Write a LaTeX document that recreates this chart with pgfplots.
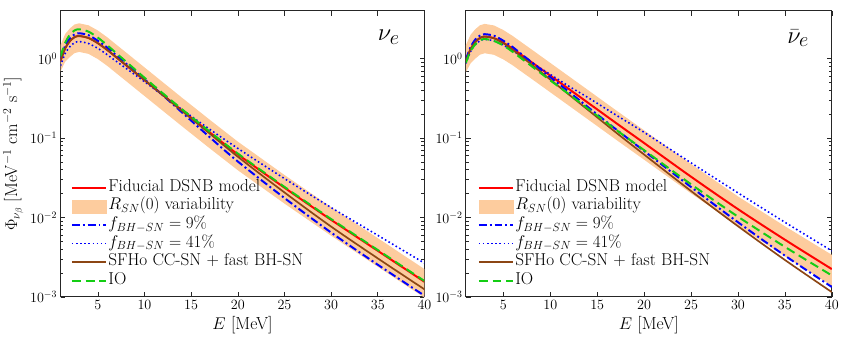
\documentclass[border=0pt]{standalone}
\usepackage{pgfplots}
\usepackage{pgfplotstable}
\pgfplotsset{compat=1.18}
\definecolor{bandc}{RGB}{253,204,158}
\definecolor{mygreen}{RGB}{20,205,20}
\definecolor{mybrown}{RGB}{140,70,20}
\definecolor{myblue}{RGB}{0,0,255}
\definecolor{myred}{RGB}{255,0,0}
\definecolor{axc}{RGB}{38,38,38}

% E, red (fiducial), green (IO), dashdot (9%), dotted (41%), brown (SFHo)
\pgfplotstableread{
E R G D O B
1 0.9333 1.0715 1.0 0.8128 0.9333
1.5 1.349 1.5849 1.4454 1.1614 1.349
2 1.660 1.9953 1.7989 1.4125 1.660
2.5 1.862 2.2646 2.0184 1.5849 1.862
3 1.928 2.3442 2.0893 1.6406 1.928
4 1.8197 2.1878 1.9724 1.5488 1.8197
5 1.5668 1.8408 1.6788 1.3490 1.5668
6 1.2882 1.4791 1.3804 1.1220 1.2882
7 1.0351 1.1668 1.0965 0.9226 1.0351
8 0.8318 0.9226 0.8710 0.7586 0.8318
10 0.5370 0.5754 0.5495 0.5129 0.5370
12 0.3467 0.3631 0.3428 0.3428 0.34435
14 0.22387 0.23174 0.21135 0.22909 0.22029
17 0.11749 0.12023 0.10233 0.12882 0.1135
20 0.06237 0.06383 0.05070 0.07413 0.05821
25 0.023714 0.024266 0.017579 0.030903 0.020654
30 0.009333 0.009550 0.006457 0.013335 0.007674
35 0.0038019 0.0038905 0.002541 0.0059566 0.0030549
40 0.0015488 0.0015849 0.0010351 0.0026607 0.0012445
}\tabNuE

% band: upper edge forward, lower edge backward
\pgfplotstableread{
E Y
1 1.4791
1.5 2.0417
2 2.3988
2.5 2.6915
3 2.7861
4 2.6303
5 2.2646
6 1.8621
7 1.4962
8 1.2023
10 0.7762
12 0.50119
14 0.32359
17 0.16982
20 0.090157
25 0.034277
30 0.01349
35 0.0054954
40 0.0022387
40 0.000977
35 0.0023988
30 0.0058884
25 0.014962
20 0.039355
17 0.07413
14 0.14125
12 0.21878
10 0.3388
8 0.5248
7 0.65313
6 0.8128
5 0.9886
4 1.1482
3 1.2162
2.5 1.1749
2 1.0471
1.5 0.9120
1 0.6918
}\bandNuE

\pgfplotstableread{
E R G D O B
1 0.9333 0.8913 0.9772 0.8710 0.9333
1.5 1.3183 1.2445 1.3964 1.2303 1.3183
2 1.6218 1.5136 1.7378 1.4962 1.6218
2.5 1.8197 1.6982 1.9498 1.6788 1.8197
3 1.8967 1.7701 2.0324 1.7498 1.8967
4 1.8113 1.6711 1.9409 1.6711 1.7989
5 1.5849 1.4622 1.6788 1.4791 1.5596
6 1.3335 1.2162 1.3964 1.2589 1.2882
7 1.0965 0.9886 1.1220 1.0593 1.0423
8 0.9036 0.80538 0.9036 0.8933 0.8433
10 0.6109 0.5321 0.5834 0.6324 0.5445
12 0.4130 0.3556 0.3811 0.4477 0.3516
14 0.27925 0.23496 0.24604 0.32434 0.22699
17 0.15488 0.12735 0.12882 0.19498 0.11749
20 0.086497 0.070307 0.068707 0.11803 0.061944
25 0.032584 0.026182 0.024155 0.048753 0.021528
30 0.012735 0.010233 0.0087096 0.020417 0.0077625
35 0.005248 0.0042658 0.0033113 0.0087096 0.0029174
40 0.0022387 0.0018621 0.0013335 0.0038019 0.0011482
}\tabNuEbar

\pgfplotstableread{
E Y
1 1.4791
1.5 1.9953
2 2.3442
2.5 2.6303
3 2.7416
4 2.6182
5 2.2909
6 1.9275
7 1.5849
8 1.3062
10 0.8831
12 0.5970
14 0.40365
17 0.22387
20 0.12503
25 0.047098
30 0.018408
35 0.007762
40 0.0033884
40 0.0013804
35 0.0032359
30 0.0078524
25 0.020091
20 0.053333
17 0.09550
14 0.17219
12 0.25468
10 0.3767
8 0.5572
7 0.6761
6 0.8222
5 0.9772
4 1.1169
3 1.1695
2.5 1.122
2 1.0
1.5 0.8710
1 0.6761
}\bandNuEbar

\newcommand{\drawall}[2]{%
  \addplot[fill=bandc, draw=none, forget plot] table[x=E,y=Y] {#2} -- cycle;
  \addplot[myred, line width=2bp, smooth, forget plot] table[x=E,y=R] {#1};
  \addplot[myblue, line width=2bp, dash pattern=on 8bp off 3bp on 2bp off 3bp, smooth, forget plot] table[x=E,y=D] {#1};
  \addplot[myblue, line width=1.6bp, dash pattern=on 1.6bp off 2.6bp, smooth, forget plot] table[x=E,y=O] {#1};
  \addplot[mybrown, line width=1.7bp, smooth, forget plot] table[x=E,y=B] {#1};
  \addplot[mygreen, line width=2bp, dash pattern=on 9bp off 5bp, smooth, forget plot] table[x=E,y=G] {#1};
  \addlegendimage{legend image code/.code={\draw[myred, line width=2bp] (0bp,0bp) -- (35bp,0bp);}}
  \addlegendentry{Fiducial DSNB model}
  \addlegendimage{legend image code/.code={\fill[bandc] (0bp,-6.5bp) rectangle (35bp,6.5bp);}}
  \addlegendentry{$R_{SN}(0)$ variability}
  \addlegendimage{legend image code/.code={\draw[myblue, line width=2bp, dash pattern=on 8bp off 3bp on 2bp off 3bp] (0bp,0bp) -- (35bp,0bp);}}
  \addlegendentry{$f_{BH-SN}=9\%$}
  \addlegendimage{legend image code/.code={\draw[myblue, line width=1.6bp, dash pattern=on 1.6bp off 2.6bp] (0bp,0bp) -- (35bp,0bp);}}
  \addlegendentry{$f_{BH-SN}=41\%$}
  \addlegendimage{legend image code/.code={\draw[mybrown, line width=1.7bp] (0bp,0bp) -- (35bp,0bp);}}
  \addlegendentry{SFHo CC-SN + fast BH-SN}
  \addlegendimage{legend image code/.code={\draw[mygreen, line width=2bp, dash pattern=on 9bp off 5bp] (0bp,0bp) -- (35bp,0bp);}}
  \addlegendentry{IO}
}

\pgfplotsset{
  every axis/.append style={
    scale only axis, height=290bp, ymode=log,
    xmin=1, xmax=40, ymin=1e-3, ymax=4,
    xtick={5,10,...,40}, ytick={1e-3,1e-2,1e-1,1},
    tick align=inside, axis line style={axc, line width=0.8pt},
    tick style={axc, line width=0.6pt},
    major tick length=5bp, minor tick length=3bp,
    tick label style={font=\fontsize{14.5}{16}\selectfont},
    label style={font=\fontsize{17.8}{20}\selectfont},
    xlabel={$E$ [MeV]},
    legend cell align=left,
    legend style={draw=none, fill=none, font=\fontsize{17.5}{19}\selectfont,
      row sep=2.4bp, inner sep=0pt, anchor=north west,
      nodes={inner sep=1bp, text height=11bp, text depth=3.5bp}},
  },
}

\begin{document}
\begin{tikzpicture}
\begin{axis}[at={(52bp,47bp)}, anchor=south west, width=369bp,
    ylabel={$\Phi_{\nu_\beta}$ [MeV$^{-1}$ cm$^{-2}$ s$^{-1}$]},
    legend style={at={(rel axis cs:0.028,0.411)}}]
\drawall{\tabNuE}{\bandNuE}
\node[font=\fontsize{29}{31}\selectfont] at (rel axis cs:0.902,0.907) {$\nu_e$};
\end{axis}
\begin{axis}[at={(463bp,47bp)}, anchor=south west, width=371bp,
    legend style={at={(rel axis cs:0.032,0.411)}}]
\drawall{\tabNuEbar}{\bandNuEbar}
\node[font=\fontsize{29}{31}\selectfont] at (rel axis cs:0.908,0.905) {$\bar{\nu}_e$};
\end{axis}
\path (0bp,0bp) rectangle (842bp,348bp);
\end{tikzpicture}
\end{document}
